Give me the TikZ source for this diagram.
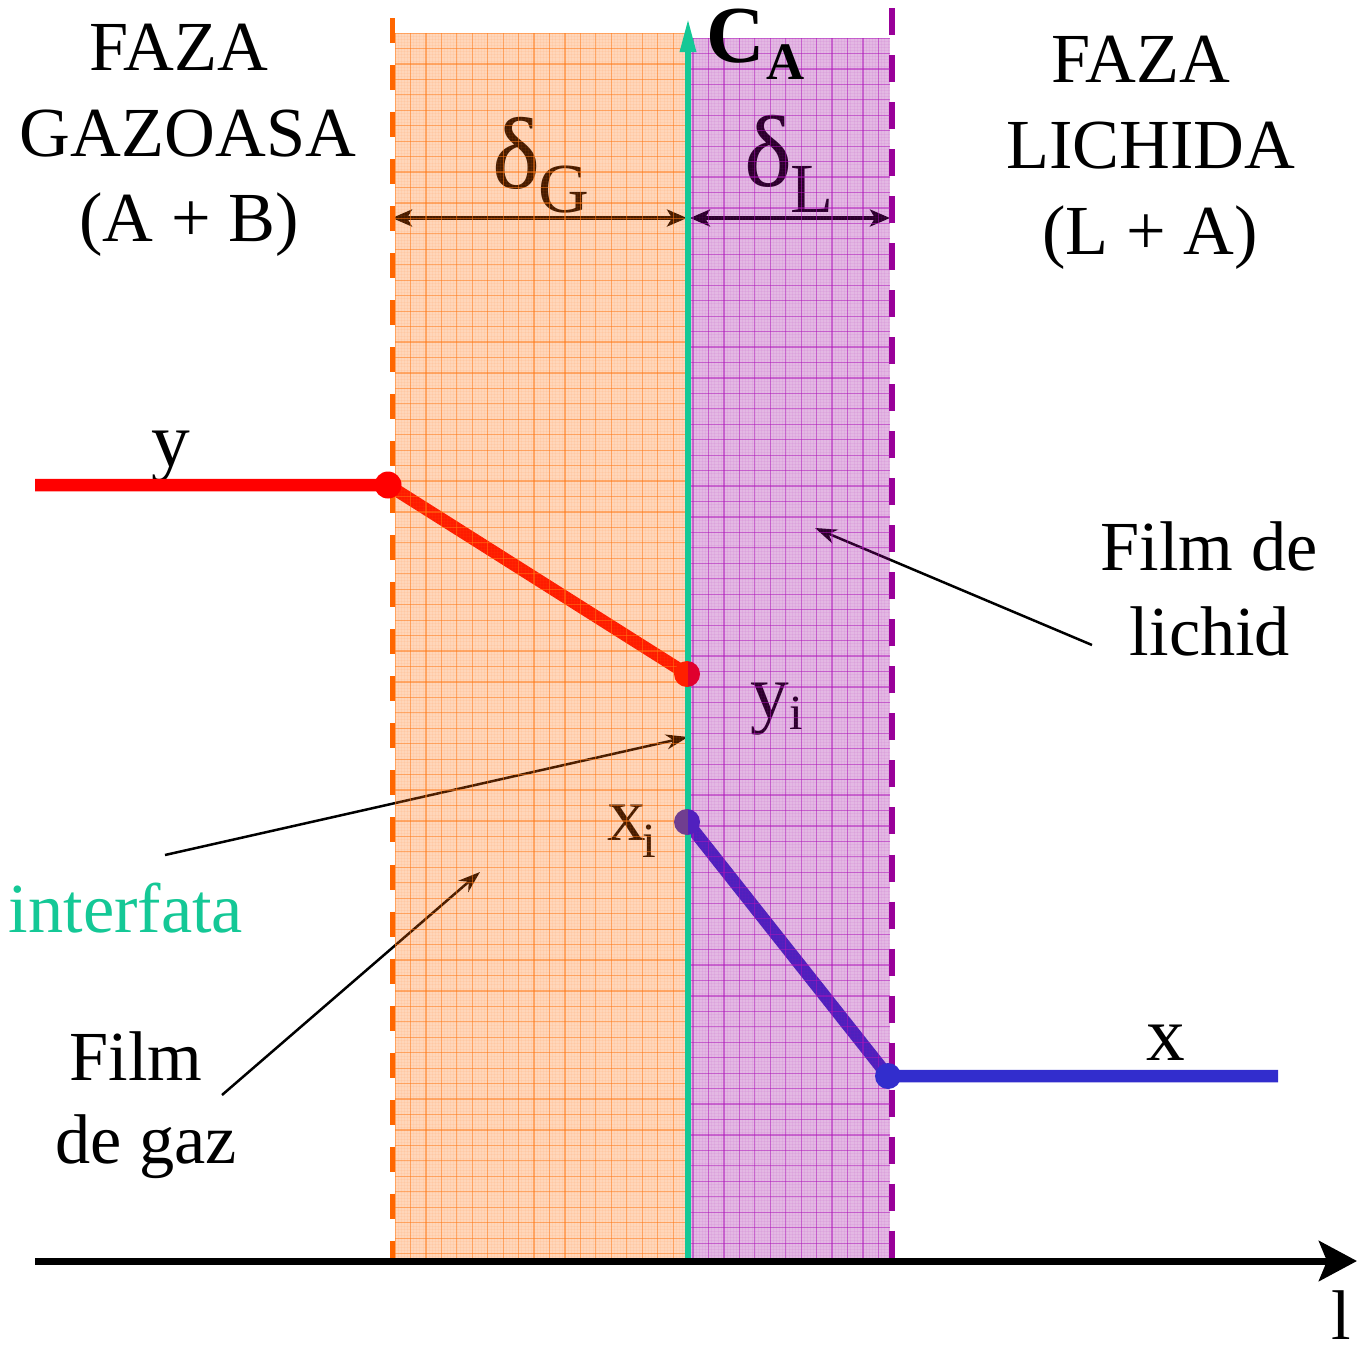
\documentclass[tikz,border=0pt]{standalone}
\usepackage{fontspec}
\setmainfont{Liberation Serif}
\usetikzlibrary{arrows.meta}
\definecolor{gasor}{RGB}{255,102,0}
\definecolor{liqpu}{RGB}{153,0,153}
\definecolor{ifgreen}{RGB}{20,200,150}
\definecolor{yred}{RGB}{255,0,0}
\definecolor{xblue}{RGB}{50,45,205}
\definecolor{gridor}{RGB}{255,120,20}
\definecolor{gridpu}{RGB}{175,20,185}
\definecolor{redong}{RGB}{255,31,0}
\definecolor{redonl}{RGB}{224,0,46}
\definecolor{blueong}{RGB}{112,62,144}
\definecolor{blueonl}{RGB}{81,32,190}
\begin{document}
\begin{tikzpicture}[x=0.01cm,y=-0.01cm,
  txt/.style={inner sep=0pt,anchor=base,font=\fontsize{20}{24}\selectfont},
  bigd/.style={inner sep=0pt,anchor=base,font=\fontsize{29}{30}\selectfont},
  lbl/.style={inner sep=0pt,anchor=base,font=\fontsize{22}{24}\selectfont},
  sub/.style={inner sep=0pt,anchor=base,font=\fontsize{14}{16}\selectfont},
  pointer/.style={black,line width=0.025cm,-{Stealth[length=0.22cm,width=0.15cm]}},
  dimarrow/.style={black,line width=0.035cm,{Stealth[length=0.2cm,width=0.17cm,inset=0.05cm]}-{Stealth[length=0.2cm,width=0.17cm,inset=0.05cm]}},
  profile/.style={line width=0.125cm},
  minorgrid/.style={opacity=0.07,line width=0.005cm},
  majorgrid/.style={opacity=0.5,line width=0.012cm}]
\useasboundingbox (0,0) rectangle (1357,1348);

% coordinates
\coordinate (y0) at (35,485);
\coordinate (y1) at (388,485);
\coordinate (yi) at (687,674);
\coordinate (xi) at (687,822);
\coordinate (x1) at (888,1076);
\coordinate (x0) at (1278,1076);
\coordinate (gbot) at (688,1262);
\coordinate (gtop) at (688,18);
\coordinate (dgl) at (392,218);
\coordinate (dgr) at (687,218);
\coordinate (dll) at (690,218);
\coordinate (dlr) at (890,218);
\coordinate (liqtip) at (815,528);
\coordinate (liqtail) at (1092,645);
\coordinate (iftip) at (688,737);
\coordinate (iftail) at (165,855);
\coordinate (gaztip) at (480,872);
\coordinate (gaztail) at (222,1095);
\coordinate (ax0) at (35,1261);
\coordinate (ax1) at (1357,1261);
\coordinate (odt) at (392,18);
\coordinate (odb) at (392,1262);
\coordinate (pdt) at (892,8);
\coordinate (pdb) at (892,1258);

% texts under the films
\node[txt] (gz1) at (179,70) {FAZA};
\node[txt] (gz2) at (188,156) {GAZOASA};
\node[txt] (gz3) at (189,241) {(A + B)};
\node[txt] (lq1) at (1141,82) {FAZA};
\node[txt] (lq2) at (1151,168) {LICHIDA};
\node[txt] (lq3) at (1150,254) {(L + A)};
\node[bigd] (dG) at (517,188) {δ};
\node[txt] (dGs) at (564,212) {G};
\node[bigd] (dL) at (769,186) {δ};
\node[txt] (dLs) at (812,212) {L};
\node[lbl] (ylab) at (171,466) {y};
\node[lbl] (yilab) at (770,718) {y};
\node[sub] (yisub) at (796,729) {i};
\node[lbl] (xilab) at (627,840) {x};
\node[sub] (xisub) at (649,857) {i};
\node[lbl] (xlab) at (1166,1060) {x};
\node[txt,text=ifgreen] (iflab) at (126,932) {interfata};
\node[txt] (fl1) at (1209,570) {Film de};
\node[txt] (fl2) at (1210,655) {lichid};
\node[txt] (fg1) at (136,1080) {Film};
\node[txt] (fg2) at (146,1163) {de gaz};

% dimension arrows
\draw[dimarrow] (dgl) -- (dgr);
\draw[dimarrow] (dll) -- (dlr);

% pointers
\draw[pointer] (liqtail) -- (liqtip);
\draw[pointer] (iftail) -- (iftip);
\draw[pointer] (gaztail) -- (gaztip);

% dashed borders
\draw[gasor,line width=0.05cm,dash pattern=on 0.25cm off 0.22cm] (odt) -- (odb);
\draw[liqpu,line width=0.065cm,dash pattern=on 0.27cm off 0.2cm] (pdt) -- (pdb);

% profiles
\draw[yred,profile] (y0) -- (y1) -- (yi);
\draw[xblue,profile] (xi) -- (x1) -- (x0);

% gas film overlay
\begin{scope}
\clip (395,33) rectangle (687,1258);
\fill[gasor,fill opacity=0.27] (395,33) rectangle (687,1258);
\foreach \i in {0,...,95} \draw[gridor,minorgrid] ({395+\i*3.09},33) -- ++(0,1225);
\foreach \i in {0,...,397} \draw[gridor,minorgrid] (395,{33+\i*3.09}) -- ++(292,0);
\foreach \i in {0,...,19} \draw[gridor,majorgrid] ({395+\i*15.45},33) -- ++(0,1225);
\foreach \i in {0,...,80} \draw[gridor,majorgrid] (395,{33+\i*15.45}) -- ++(292,0);
\end{scope}

% liquid film overlay
\begin{scope}
\clip (690,38) rectangle (890,1258);
\fill[liqpu,fill opacity=0.28] (690,38) rectangle (890,1258);
\foreach \i in {0,...,66} \draw[gridpu,minorgrid] ({690+\i*3.09},38) -- ++(0,1220);
\foreach \i in {0,...,395} \draw[gridpu,minorgrid] (690,{38+\i*3.09}) -- ++(200,0);
\foreach \i in {0,...,13} \draw[gridpu,majorgrid] ({693+\i*15.45},38) -- ++(0,1220);
\foreach \i in {0,...,79} \draw[gridpu,majorgrid] (690,{38+\i*15.45}) -- ++(200,0);
\end{scope}

% interface line on top of the films
\draw[ifgreen,line width=0.06cm,-{Triangle[length=0.34cm,width=0.15cm]}] (gbot) -- (gtop);

% interface dots (tinted by the films)
\begin{scope}
\clip (600,600) rectangle (688,900);
\fill[redong] (yi) circle (13);
\fill[blueong] (xi) circle (13);
\end{scope}
\begin{scope}
\clip (688,600) rectangle (760,900);
\fill[redonl] (yi) circle (13);
\fill[blueonl] (xi) circle (13);
\end{scope}

% end dots on top
\fill[yred] (y1) circle (13.5);
\fill[xblue] (x1) circle (13);

% axis
\draw[black,line width=0.07cm,-{Stealth[length=0.38cm,width=0.4cm,inset=0.08cm]}] (ax0) -- (ax1);
\node[txt] (llab) at (1341,1339) {l};

% concentration label
\node[inner sep=0pt,anchor=base,font=\fontsize{23}{26}\selectfont\bfseries] (CA) at (736,62) {C};
\node[inner sep=0pt,anchor=base west,font=\fontsize{15}{18}\selectfont\bfseries] (CAs) at (CA.base east) [yshift=-0.17cm] {A};
\end{tikzpicture}
\end{document}
